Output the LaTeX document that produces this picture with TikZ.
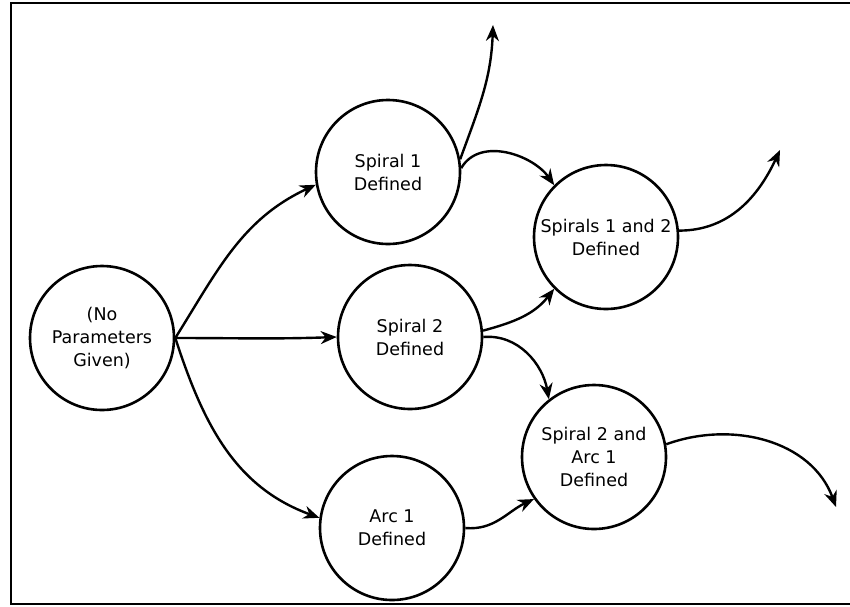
\documentclass[tikz,border=0pt]{standalone}
\usepackage{fontspec}
\setmainfont{DejaVu Sans}
\usetikzlibrary{arrows.meta, positioning}

\begin{document}
\begin{tikzpicture}[
  x=1pt, y=-1pt,
  state/.style={circle, draw=black, line width=2.6pt, minimum size=144pt,
                inner sep=0pt, align=center,
                font=\fontsize{17.5}{23}\selectfont},
  arrow/.style={-{Stealth[length=16pt, width=13pt]}, line width=2.4pt, black}
]
\useasboundingbox (0,0) rectangle (850,606);
\draw[line width=2.6pt] (855,3) -- (11,3) -- (11,604) -- (855,604);

\node[state] (start) at (102,338) {(No\\Parameters\\Given)};
\node[state] (s1)    at (388,172) {Spiral 1\\Defined};
\node[state] (s2)    at (410,337) {Spiral 2\\Defined};
\node[state] (a1)    at (392,528) {Arc 1\\Defined};
\node[state] (s12)   at (606,237) {Spirals 1 and 2\\Defined};
\node[state] (s2a1)  at (594,457) {Spiral 2 and\\Arc 1\\Defined};

\coordinate (up1)  at (493,25);
\coordinate (out1) at (780,150);
\coordinate (out2) at (836,507);

\draw[arrow] (start.east) to[out=58, in=205]  (s1.190);
\draw[arrow] (start.east) to[out=0, in=182]   (s2.west);
\draw[arrow] (start.east) to[out=-72, in=160] (a1.172);
\draw[arrow] (s1.10)   to[out=70, in=268]  (up1);
\draw[arrow] (s1.3)    to[out=60, in=125]  (s12.135);
\draw[arrow] (s2.5)    to[out=15, in=232]  (s12.225);
\draw[arrow] (s2.east) to[out=5, in=100]   (s2a1.128);
\draw[arrow] (a1.east) to[out=-5, in=205]  (s2a1.215);
\draw[arrow] (s12.5)   to[out=0, in=245]   (out1);
\draw[arrow] (s2a1.10) to[out=20, in=110]  (out2);
\end{tikzpicture}
\end{document}
